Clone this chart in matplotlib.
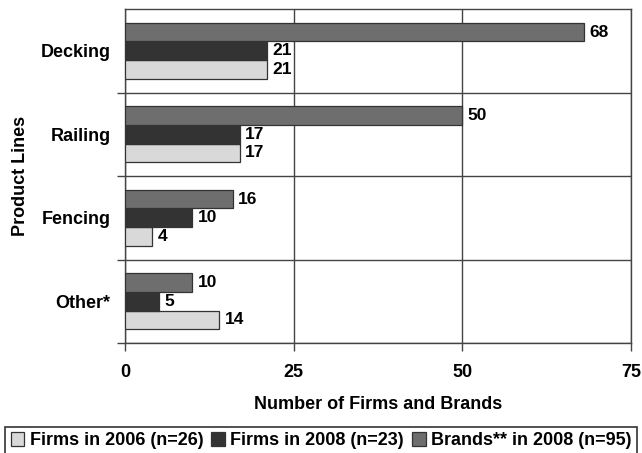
import numpy as np
import matplotlib
matplotlib.use("Agg")
import matplotlib.pyplot as plt
from matplotlib.ticker import FixedLocator

plt.rcParams['font.family'] = ['Liberation Sans', 'DejaVu Sans']
plt.rcParams['font.weight'] = 'bold'

# Product line counts
product_lines = ["Decking", "Railing", "Fencing", "Other*"]
firms_2006 = [21, 17, 4, 14]
firms_2008 = [21, 17, 10, 5]
brands_2008 = [68, 50, 16, 10]

series_names = ["Firms in 2006 (n=26)", "Firms in 2008 (n=23)", "Brands** in 2008 (n=95)"]
colors = ["#d9d9d9", "#333333", "#6e6e6e"]

fig = plt.figure(figsize=(6.42, 4.53), dpi=100)
ax = fig.add_axes([125 / 642, 1 - 343 / 453, 506 / 642, 334 / 453])

centers = np.arange(len(product_lines)) + 0.5
h = 0.224
# brands on top of each group, then 2008, then 2006
offsets = [h, 0.0, -h]
series = [firms_2006, firms_2008, brands_2008]

handles = []
for vals, off, col, name in zip(series, offsets, colors, series_names):
    bars = ax.barh(centers + off, vals, height=h, color=col, edgecolor="#333333",
                   linewidth=0.9, label=name, zorder=3)
    handles.append(bars)
    for b, v in zip(bars, vals):
        ax.text(v + 0.8, b.get_y() + b.get_height() / 2, str(v), va="center", ha="left",
                fontsize=12.5, fontweight="bold", zorder=4)

ax.set_xlim(0, 75)
ax.set_ylim(len(product_lines), 0)
ax.set_xticks([0, 25, 50, 75])
ax.set_xticklabels(["0", "25", "50", "75"], fontsize=13, fontweight="bold")
ax.set_yticks(centers)
ax.set_yticklabels(product_lines, fontsize=13, fontweight="bold")
ax.tick_params(axis="y", which="major", length=0, pad=10.5)
ax.yaxis.set_minor_locator(FixedLocator([1, 2, 3, 4]))
ax.tick_params(axis="y", which="minor", length=6, color="#444444", width=1)
ax.tick_params(axis="x", which="major", length=6, color="#444444", width=1, pad=9)

ax.grid(axis="x", which="major", color="#444444", linewidth=1, zorder=0)
ax.grid(axis="y", which="minor", color="#444444", linewidth=1, zorder=0)
for s in ax.spines.values():
    s.set_color("#444444")
    s.set_linewidth(1)

ax.set_xlabel("Number of Firms and Brands", fontsize=13, fontweight="bold", labelpad=11)
ax.set_ylabel("Product Lines", fontsize=13, fontweight="bold", labelpad=8)

leg = fig.legend(handles=handles, labels=series_names, loc="lower center",
                 bbox_to_anchor=(0.5, -0.004), ncol=3, fontsize=13, frameon=True,
                 fancybox=False, edgecolor="black", handlelength=0.75, handleheight=0.75,
                 handletextpad=0.3, columnspacing=0.45, borderpad=0.3, borderaxespad=0)
leg.get_frame().set_linewidth(1.2)

fig.savefig("out.png", dpi=100)
